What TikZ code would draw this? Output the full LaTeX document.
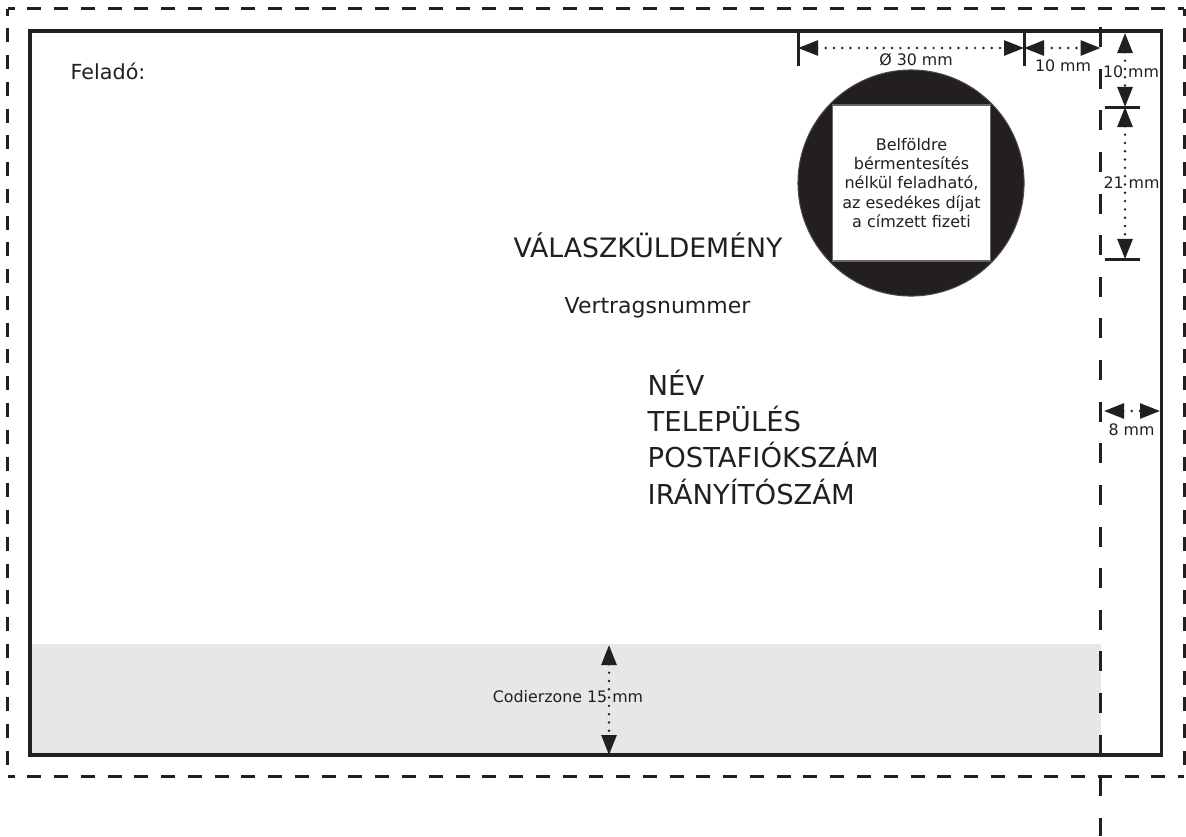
\documentclass[tikz,border=0pt]{standalone}
\usepackage{fontspec}
\setmainfont{DejaVu Sans}
\usepackage{xcolor}
\usetikzlibrary{arrows.meta}
\definecolor{inkblk}{HTML}{231F20}
\definecolor{zonegray}{HTML}{E6E7E8}
\tikzset{
    x=0.01cm, y=-0.01cm,
    txt/.style={inner sep=0pt, text=inkblk},
    dimtxt/.style={txt, font=\fontsize{4.5}{5.5}\selectfont},
    midtxt/.style={txt, font=\fontsize{5.9}{7}\selectfont},
    bigtxt/.style={txt, font=\fontsize{7.6}{9}\selectfont},
    addrtxt/.style={txt, anchor=west, font=\fontsize{7.8}{9}\selectfont},
    dimline/.style={draw=inkblk, line width=0.027cm, line cap=round, dash pattern=on 0pt off 0.083cm,
        {Triangle[length=0.2cm, width=0.15cm, inkblk, line cap=butt, sep=0pt]}-{Triangle[length=0.2cm, width=0.15cm, inkblk, line cap=butt]}},
    tick/.style={draw=inkblk, line width=0.03cm},
    outerdash/.style={draw=inkblk, line width=0.03cm, dash pattern=on 0.14cm off 0.1275cm, dash phase=0.07cm},
    folddash/.style={draw=inkblk, line width=0.03cm, dash pattern=on 0.2cm off 0.216cm}
}
\begin{document}
\begin{tikzpicture}
    \useasboundingbox (0, 0) rectangle (1186, 836);
    % corners
    \coordinate (otl) at (7.5, 8.5);
    \coordinate (otr) at (1184, 8.5);
    \coordinate (obl) at (7.5, 776);
    \coordinate (obr) at (1184, 776);
    \coordinate (ftop) at (1100.5, 27);
    \coordinate (fbot) at (1100.5, 836);
    % grey zone and frame
    \fill[zonegray] (30, 644) rectangle (1100.5, 755);
    \draw[draw=inkblk, line width=0.033cm] (30, 31) rectangle (1161.5, 755);
    % outer cut line
    \draw[outerdash] (otl) -- (otr);
    \draw[outerdash] (otr) -- (obr);
    \draw[outerdash] (obl) -- (obr);
    \draw[outerdash] (otl) -- (obl);
    \draw[folddash] (ftop) -- (fbot);
    % stamp
    \node[circle, draw=black!70, line width=0.01cm, fill=inkblk, minimum size=2.26cm, inner sep=0pt] (stamp) at (911, 183) {};
    \node[draw=black!60, line width=0.015cm, fill=white, minimum width=1.58cm, minimum height=1.56cm, inner sep=0pt] (stampbox) at (911.5, 183) {};
    \node[dimtxt, align=center, font=\fontsize{4.55}{5.54}\selectfont] (stamptxt) at (stampbox) {Belföldre\\bérmentesítés\\nélkül feladható,\\az esedékes díjat\\a címzett fizeti};
    % dimensions on top
    \coordinate (ta) at (798, 31);
    \coordinate (tb) at (1024, 31);
    \coordinate (tc) at (798, 66);
    \coordinate (td) at (1024, 66);
    \coordinate (da) at (798, 48);
    \coordinate (db) at (1024, 48);
    \coordinate (dc) at (1100.5, 48);
    \draw[tick] (ta) -- (tc);
    \draw[tick] (tb) -- (td);
    \draw[dimline] (da) -- (db);
    \draw[dimline] (db) -- (dc);
    \node[dimtxt] (dia) at (916, 60) {Ø 30 mm};
    \node[dimtxt] (ten) at (1063, 66) {10 mm};
    % dimensions on the right
    \coordinate (ra) at (1125, 33);
    \coordinate (rb) at (1125, 107);
    \coordinate (rc) at (1125, 259);
    \coordinate (ua) at (1105, 107);
    \coordinate (ub) at (1140, 107);
    \coordinate (uc) at (1105, 259);
    \coordinate (ud) at (1140, 259);
    \draw[tick] (ua) -- (ub);
    \draw[tick] (uc) -- (ud);
    \draw[dimline] (ra) -- (rb);
    \draw[dimline] (rb) -- (rc);
    \node[dimtxt] (tenr) at (1131, 72) {10 mm};
    \node[dimtxt] (twone) at (1131.5, 182.5) {21 mm};
    \coordinate (ea) at (1104, 411);
    \coordinate (eb) at (1160, 411);
    \draw[dimline] (ea) -- (eb);
    \node[dimtxt] (eight) at (1131.5, 430) {8 mm};
    % code zone
    \coordinate (za) at (609, 645);
    \coordinate (zb) at (609, 755);
    \draw[dimline] (za) -- (zb);
    \node[dimtxt] (code) at (568, 697) {Codierzone 15 mm};
    % texts
    \node[midtxt] (sender) at (108, 71) {Feladó:};
    \node[bigtxt] (reply) at (648, 245) {VÁLASZKÜLDEMÉNY};
    \node[midtxt, font=\fontsize{6.25}{7}\selectfont] (contract) at (657.5, 308) {Vertragsnummer};
    \node[addrtxt] (name) at (647, 383) {NÉV};
    \node[addrtxt] (town) at (647, 419) {TELEPÜLÉS};
    \node[addrtxt] (pobox) at (647, 455) {POSTAFIÓKSZÁM};
    \node[addrtxt] (zip) at (647, 492) {IRÁNYÍTÓSZÁM};
\end{tikzpicture}
\end{document}
